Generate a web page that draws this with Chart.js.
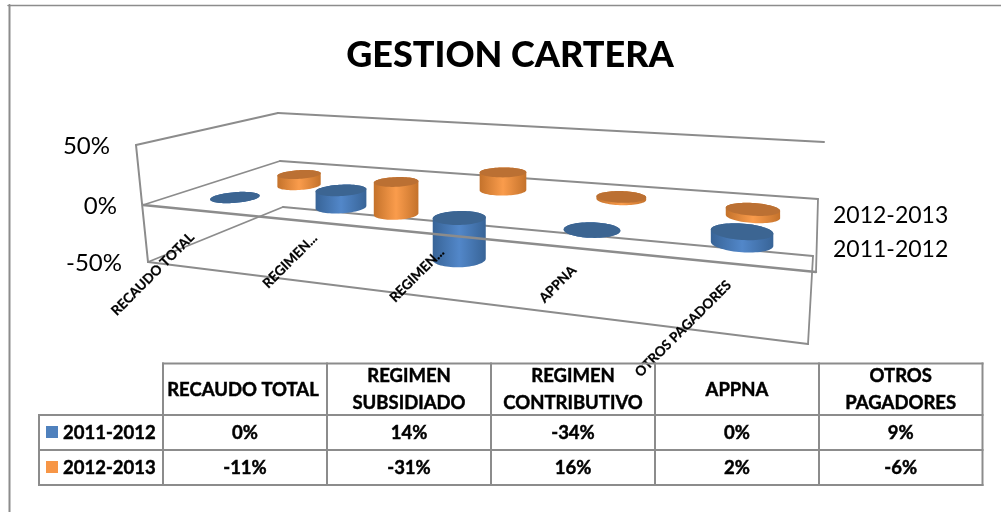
<!DOCTYPE html>
<html><head><meta charset="utf-8">
<style>html,body{margin:0;padding:0;background:#fff}#w{position:relative;width:1001px;height:512px}</style>
<script src="https://cdn.jsdelivr.net/npm/chart.js@4"></script>
</head><body><div id="w"><canvas id="c" width="1001" height="512"></canvas></div>
<script>
const chartTitle = 'GESTION CARTERA';
const categories = ['RECAUDO TOTAL','REGIMEN SUBSIDIADO','REGIMEN CONTRIBUTIVO','APPNA','OTROS PAGADORES'];
const axisLabels = ['RECAUDO TOTAL','REGIMEN...','REGIMEN...','APPNA','OTROS PAGADORES'];
const headerLines = [['RECAUDO TOTAL'],['REGIMEN','SUBSIDIADO'],['REGIMEN','CONTRIBUTIVO'],['APPNA'],['OTROS','PAGADORES']];
const seriesNames = ['2011-2012','2012-2013'];
const values2011 = [0,14,-34,0,9];
const values2012 = [-11,-31,16,2,-6];

const FONT='Lato, Carlito, Calibri, sans-serif';
const GRAY='#8c8c8c';
const COLORS=[
 {swatch:'#4f81bd',edge:'#386497',mid:'#5287c9',top:'#3c6592'},
 {swatch:'#f79646',edge:'#c4722b',mid:'#fa9c4c',top:'#bb7033'}
];
const DEPTH=[0.24,0.74];
const RU=0.039, RV=0.105, USHIFT=0.009;

// perspective box, corner order: front-left, front-right, back-right, back-left
function homography(q){
  const [[x0,y0],[x1,y1],[x2,y2],[x3,y3]]=q;
  const dx1=x1-x2,dx2=x3-x2,sx=x0-x1+x2-x3,dy1=y1-y2,dy2=y3-y2,sy=y0-y1+y2-y3;
  const d=dx1*dy2-dx2*dy1;
  const g=(sx*dy2-dx2*sy)/d,h=(dx1*sy-sx*dy1)/d;
  const a=x1-x0+g*x1,b=x3-x0+h*x3,c=x0,e=y1-y0+g*y1,f=y3-y0+h*y3,k=y0;
  return (u,v)=>{const w=g*u+h*v+1;return [(a*u+b*v+c)/w,(e*u+f*v+k)/w];};
}
const planeTop=homography([[136,145],[824,200],[824,142],[278,113]]);
const planeMid=homography([[143,205],[816,272],[818,199],[280,161]]);
const planeBot=homography([[148,262],[808,344],[813,256],[283,207]]);
function project(u,v,f,upright){ // f: -1..1 share of the value axis
  const m=planeMid(u,v), o=f>=0?planeTop(u,v):planeBot(u,v), t=Math.abs(f);
  return [upright?m[0]:m[0]+(o[0]-m[0])*t,m[1]+(o[1]-m[1])*t];
}
function hull(pts){
  const p=pts.slice().sort((a,b)=>a[0]-b[0]||a[1]-b[1]);
  const cr=(o,a,b)=>(a[0]-o[0])*(b[1]-o[1])-(a[1]-o[1])*(b[0]-o[0]);
  const lo=[],up=[];
  for(const q of p){while(lo.length>1&&cr(lo[lo.length-2],lo[lo.length-1],q)<=0)lo.pop();lo.push(q);}
  for(const q of p.slice().reverse()){while(up.length>1&&cr(up[up.length-2],up[up.length-1],q)<=0)up.pop();up.push(q);}
  return lo.slice(0,-1).concat(up.slice(0,-1));
}
function poly(ctx,pts){ctx.beginPath();pts.forEach((p,i)=>i?ctx.lineTo(p[0],p[1]):ctx.moveTo(p[0],p[1]));ctx.closePath();}

class Cylinder3D extends Chart.BarController{
  draw(){
    const ctx=this.chart.ctx, meta=this._cachedMeta, xs=meta.xScale, ys=meta.yScale;
    const idx=this.index, col=COLORS[idx], v0=DEPTH[idx];
    const z0=ys.getPixelForValue(0), zMax=ys.getPixelForValue(ys.max);
    const L=this.chart.chartArea.left,W=this.chart.chartArea.width;
    meta.data.forEach((el,i)=>{
      const val=this.getParsed(i).y;
      const u0=(xs.getPixelForValue(i)-L)/W+USHIFT;
      const f=(z0-ys.getPixelForValue(val))/(z0-zMax);
      const ring=z=>{const r=[];for(let a=0;a<72;a++){const t=a/72*Math.PI*2;r.push(project(u0+RU*Math.cos(t),v0+RV*Math.sin(t),z,true));}return r;};
      const topZ=Math.max(f,0), botZ=Math.min(f,0);
      const T=ring(topZ), B=ring(botZ);
      const xsAll=T.concat(B).map(p=>p[0]);
      const x1=Math.min(...xsAll), x2=Math.max(...xsAll);
      const g=ctx.createLinearGradient(x1,0,x2,0);
      g.addColorStop(0,col.edge);g.addColorStop(0.5,col.mid);g.addColorStop(1,col.edge);
      ctx.save();
      ctx.fillStyle=g;poly(ctx,hull(T.concat(B)));ctx.fill();
      ctx.fillStyle=col.top;poly(ctx,T);ctx.fill();
      ctx.restore();
    });
  }
}
Cylinder3D.id='cylinder3d';
Cylinder3D.defaults=Chart.BarController.defaults;
Chart.register(Cylinder3D);

function seg(ctx,a,b,w,c){ctx.strokeStyle=c||GRAY;ctx.lineWidth=w;ctx.beginPath();ctx.moveTo(a[0],a[1]);ctx.lineTo(b[0],b[1]);ctx.stroke();}
const P=(u,v,f)=>project(u,v,f);
function boldText(c,s,x,y,w){c.fillText(s,x,y);c.lineWidth=w||0.45;c.strokeStyle='#000';c.strokeText(s,x,y);}

const box3d={
  id:'box3d',
  beforeDatasetsDraw(chart){
    const c=chart.ctx;c.save();c.lineCap='round';
    // page frame
    seg(c,[8,5.5],[1001,5.5],1.5);seg(c,[9.5,5],[9.5,512],2);
    // walls and planes behind the cylinders
    seg(c,P(0,0,1),P(0,1,1),2);
    seg(c,P(0,1,1),P(1,1,1),2);
    seg(c,P(0,0,-1),P(0,1,-1),1.8);
    seg(c,P(0,0,0),P(0,1,0),1.8);
    seg(c,P(0,1,0),P(1,1,0),1.8);
    seg(c,P(0,1,-1),P(1,1,-1),1.8);
    seg(c,P(1,1,-1),P(1,0,-1),1.8);
    seg(c,P(0,0,-1),P(1,0,-1),2.2);
    seg(c,P(1,1,0),P(1,0,0),1.8);
    seg(c,P(0,0,1),P(0,0,-1),2);
    c.restore();
  },
  afterDatasetsDraw(chart){
    const c=chart.ctx;c.save();c.lineCap='round';
    seg(c,P(0,0,0),P(1,0,0),2.4);
    const ys=chart.scales.y, z0=ys.getPixelForValue(0), zMax=ys.getPixelForValue(ys.max);
    // value-axis labels follow the slanted front edge
    c.fillStyle='#000';c.font='24px '+FONT;c.textAlign='right';c.textBaseline='middle';
    ys.ticks.forEach(t=>{
      const p=P(0,0,(z0-ys.getPixelForValue(t.value))/(z0-zMax));
      c.fillText(t.label,p[0]-26,p[1]+1);
    });
    // category labels
    const ends=[[195,232],[318,233],[445,247],[577,265],[732,280]];
    c.font='bold 13.5px '+FONT;c.textBaseline='middle';c.textAlign='right';
    axisLabels.forEach((s,i)=>{
      c.save();c.translate(ends[i][0]-3,ends[i][1]+3);c.rotate(-Math.PI/4);boldText(c,s,0,0,0.25);c.restore();
    });
    // depth-axis labels
    c.font='23px '+FONT;c.textAlign='left';
    c.fillText(chart.data.datasets[1].label,833,216);
    c.fillText(chart.data.datasets[0].label,833,250);
    // data table
    const cols=[163,327,491,655,819,982.5], rows=[363.5,415,450,485], L=39;
    c.strokeStyle=GRAY;c.lineWidth=2;c.lineCap='square';
    const h=(x1,x2,y)=>{c.beginPath();c.moveTo(x1,y);c.lineTo(x2,y);c.stroke();};
    const v=(x,y1,y2)=>{c.beginPath();c.moveTo(x,y1);c.lineTo(x,y2);c.stroke();};
    h(163,982.5,rows[0]);rows.slice(1).forEach(y=>h(L,982.5,y));
    cols.forEach(x=>v(x,rows[0],rows[3]));v(L,rows[1],rows[3]);
    c.fillStyle='#000';c.font='bold 18.5px '+FONT;c.textAlign='center';c.textBaseline='middle';
    headerLines.forEach((ls,i)=>{
      const cx=(cols[i]+cols[i+1])/2;
      if(ls.length===1)boldText(c,ls[0],cx-(i===0?2:0),390);
      else{boldText(c,ls[0],cx,376);boldText(c,ls[1],cx,403);}
    });
    const rowY=[433,468];
    chart.data.datasets.forEach((d,r)=>{
      c.fillStyle=COLORS[r].swatch;c.fillRect(46,rowY[r]-7,12,12);
      c.fillStyle='#000';c.textAlign='left';boldText(c,d.label,63,rowY[r]);
      c.textAlign='center';
      d.data.forEach((val,i)=>boldText(c,val+'%',(cols[i]+cols[i+1])/2,rowY[r]));
    });
    c.restore();
  }
};

new Chart(document.getElementById('c'),{
  type:'cylinder3d',
  data:{labels:categories,datasets:[
    {label:seriesNames[0],data:values2011,backgroundColor:COLORS[0].swatch,clip:false},
    {label:seriesNames[1],data:values2012,backgroundColor:COLORS[1].swatch,clip:false}
  ]},
  options:{
    responsive:false,animation:false,
    layout:{padding:{left:19,right:0,top:0,bottom:250}},
    plugins:{
      legend:{display:false},tooltip:{enabled:false},
      title:{display:true,text:chartTitle,color:'#000',font:{family:FONT,size:36,weight:'900',lineHeight:1.2},padding:{top:34,bottom:69}}
    },
    scales:{
      x:{display:false},
      y:{display:false,min:-50,max:50,ticks:{stepSize:50,callback:v=>v+'%'}}
    }
  },
  plugins:[box3d]
});
</script></body></html>
